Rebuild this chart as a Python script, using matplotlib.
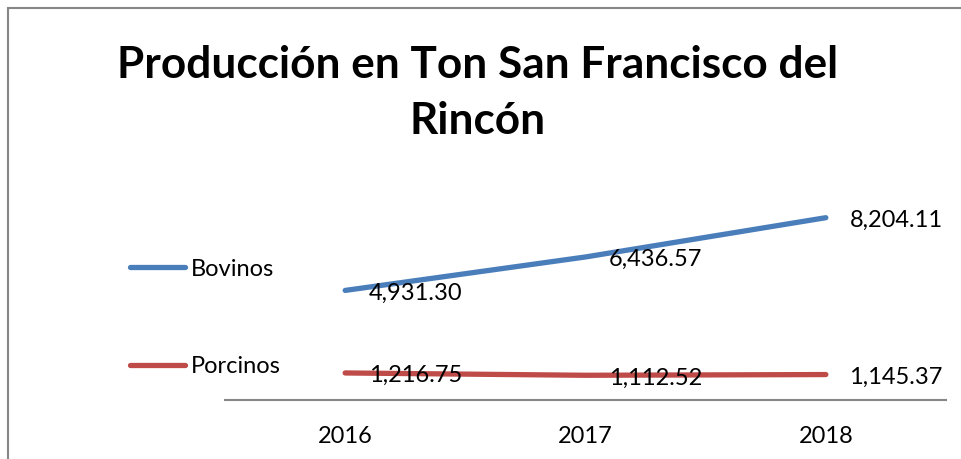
import matplotlib.pyplot as plt
from matplotlib.patches import Rectangle

years = ["2016", "2017", "2018"]
bovinos = [4931.30, 6436.57, 8204.11]
porcinos = [1216.75, 1112.52, 1145.37]
series_names = ["Bovinos", "Porcinos"]
series_colors = ["#4A7EBB", "#BE4B48"]

plt.rcParams["font.family"] = ["Lato", "DejaVu Sans"]

fig = plt.figure(figsize=(9.61, 4.59), dpi=100)

# frame of the embedded chart (runs past right/bottom edge)
fig.patches.append(Rectangle((7.5 / 961, -0.1), 1.2, 1 - 7.5 / 459 + 0.1,
                             transform=fig.transFigure, fill=False,
                             edgecolor="#868686", linewidth=1.5))

fig.text(0.497, 1 - 65 / 459, "Producción en Ton San Francisco del",
         fontsize=31.8, fontweight="bold", ha="center", va="center")
fig.text(0.497, 1 - 121 / 459, "Rincón",
         fontsize=31.8, fontweight="bold", ha="center", va="center")

ax = fig.add_axes([225 / 961, 1 - 400 / 459, 721 / 961, 200 / 459])
x = list(range(len(years)))
lines = []
for vals, name, col in zip([bovinos, porcinos], series_names, series_colors):
    ln, = ax.plot(x, vals, color=col, linewidth=3.8, solid_capstyle="round",
                  label=name)
    lines.append(ln)
    for xi, v in zip(x, vals):
        ax.annotate(f"{v:,.2f}", (xi, v), textcoords="offset points",
                    xytext=(17, -2), ha="left", va="center", fontsize=17)

ax.set_xlim(-0.5, 2.5)
ax.set_ylim(0, 9000)
ax.set_xticks(x)
ax.set_xticklabels(years, fontsize=17)
ax.tick_params(axis="x", length=0, pad=19)
ax.set_yticks([])
for side in ["top", "right", "left"]:
    ax.spines[side].set_visible(False)
ax.spines["bottom"].set_color("#868686")
ax.spines["bottom"].set_linewidth(1.5)
ax.patch.set_alpha(0)

fig.legend(handles=lines, loc="center left",
           bbox_to_anchor=(109 / 961, 1 - 318 / 459), frameon=False,
           fontsize=17, handlelength=2.3, handletextpad=0.25,
           labelspacing=3.25)

fig.savefig("out.png", dpi=100)
